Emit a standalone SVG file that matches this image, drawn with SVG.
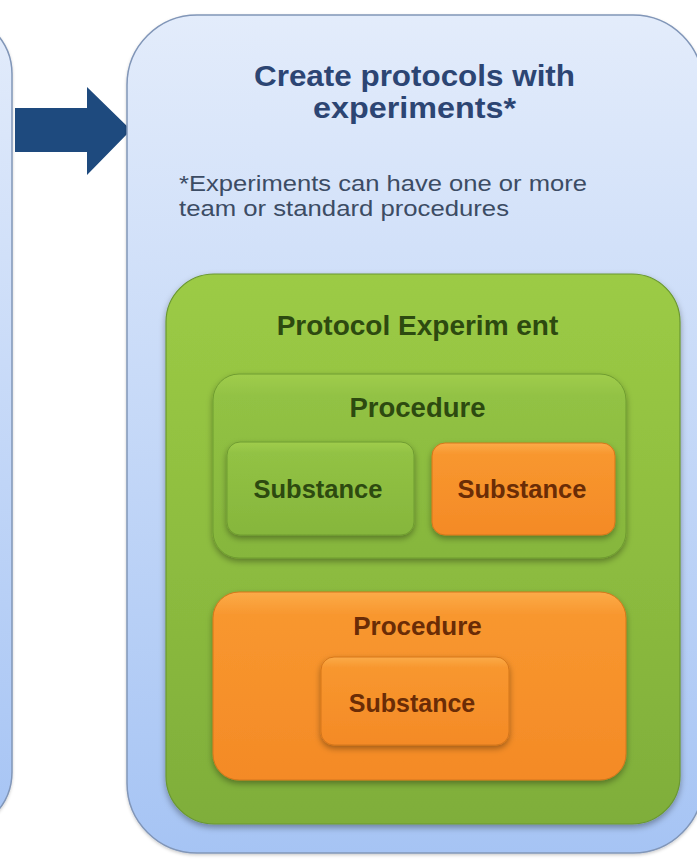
<svg xmlns="http://www.w3.org/2000/svg" width="697" height="862" viewBox="0 0 697 862">
<defs>
<linearGradient id="gBlue" x1="0" y1="0" x2="0" y2="1">
<stop offset="0" stop-color="#e3ecfb"/>
<stop offset="1" stop-color="#a6c4f4"/>
</linearGradient>
<linearGradient id="gGreenOuter" x1="0" y1="0" x2="0" y2="1">
<stop offset="0" stop-color="#9ccb45"/>
<stop offset="1" stop-color="#7fae3a"/>
</linearGradient>
<linearGradient id="gGreen" x1="0" y1="0" x2="0" y2="1">
<stop offset="0" stop-color="#a0cd4c"/>
<stop offset="0.12" stop-color="#92c244"/>
<stop offset="1" stop-color="#86b63c"/>
</linearGradient>
<linearGradient id="gOrange" x1="0" y1="0" x2="0" y2="1">
<stop offset="0" stop-color="#fbab48"/>
<stop offset="0.12" stop-color="#f8972f"/>
<stop offset="1" stop-color="#f48a26"/>
</linearGradient>
<filter id="sh" x="-10%" y="-10%" width="120%" height="125%">
<feDropShadow dx="0" dy="3" stdDeviation="3" flood-color="#000" flood-opacity="0.35"/>
</filter>
<filter id="shs" x="-10%" y="-10%" width="120%" height="125%">
<feDropShadow dx="0" dy="1.5" stdDeviation="1.5" flood-color="#000" flood-opacity="0.2"/>
</filter>
</defs>
<style>
.panel{fill:url(#gBlue);stroke:#8196b8;stroke-width:1.5}
.gbox{fill:url(#gGreen);stroke:#6f9c30;stroke-width:1}
.obox{fill:url(#gOrange);stroke:#d5761a;stroke-width:1}
.t{font-family:"Liberation Sans",Arial,sans-serif;font-weight:bold;text-anchor:middle}
.tg{fill:#2d4a10}
.to{fill:#6a2c06}
.title{fill:#2c4573;font-size:29px}
.note{font-family:"Liberation Sans",Arial,sans-serif;font-size:22px;fill:#3c4c64}
</style>
<rect width="697" height="862" fill="#ffffff"/>
<g id="left-panel">
<rect class="panel" x="-120" y="14" width="132" height="818" rx="60" filter="url(#shs)"/>
</g>
<g id="connectors">
<polygon points="15,108 87,108 87,87 131,130 87,175 87,152 15,152" fill="#1e4a7e"/>
</g>
<g id="right-panel">
<rect class="panel" x="127" y="15" width="576" height="838" rx="70" filter="url(#shs)"/>
<text class="t title" x="414.5" y="86" textLength="321" lengthAdjust="spacingAndGlyphs">Create protocols with</text>
<text class="t title" x="414.5" y="118" textLength="203" lengthAdjust="spacingAndGlyphs">experiments*</text>
<text class="note" x="179" y="191" textLength="408" lengthAdjust="spacingAndGlyphs">*Experiments can have one or more</text>
<text class="note" x="179" y="216" textLength="330" lengthAdjust="spacingAndGlyphs">team or standard procedures</text>
</g>
<g id="protocol-experiment">
<rect x="166" y="274" width="514" height="550" rx="48" fill="url(#gGreenOuter)" stroke="#6a9830" stroke-width="1.2" filter="url(#sh)"/>
<text class="t tg" x="417.5" y="335" font-size="28">Protocol Experim ent</text>
</g>
<g id="procedure-1">
<rect class="gbox" x="213" y="374" width="413" height="184" rx="26" filter="url(#sh)"/>
<text class="t tg" x="417.5" y="417" font-size="27.5">Procedure</text>
</g>
<g id="substance-1">
<rect class="gbox" x="227" y="442" width="187" height="93" rx="13" filter="url(#sh)"/>
<text class="t tg" x="318" y="498" font-size="25.5">Substance</text>
</g>
<g id="substance-2">
<rect class="obox" x="432" y="443" width="183" height="92" rx="13" filter="url(#sh)"/>
<text class="t to" x="522" y="498" font-size="25.5">Substance</text>
</g>
<g id="procedure-2">
<rect class="obox" x="213" y="592" width="413" height="188" rx="26" filter="url(#sh)"/>
<text class="t to" x="417.5" y="635" font-size="26">Procedure</text>
</g>
<g id="substance-3">
<rect class="obox" x="321" y="657" width="188" height="88" rx="13" filter="url(#sh)"/>
<text class="t to" x="412" y="712" font-size="25">Substance</text>
</g>
</svg>
